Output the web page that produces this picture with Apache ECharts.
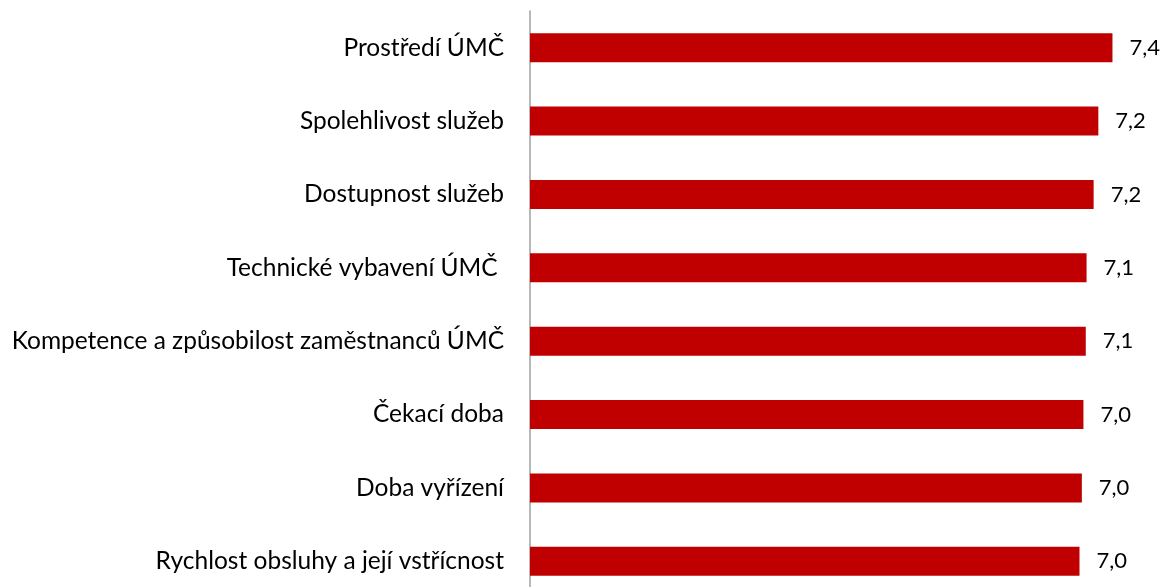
<!DOCTYPE html>
<html>
<head>
<meta charset="utf-8">
<script src="https://cdn.jsdelivr.net/npm/echarts@6/dist/echarts.min.js"></script>
<style>
  html, body { margin: 0; padding: 0; background: #fff; }
  #chart { width: 1165px; height: 587px; }
</style>
</head>
<body>
<div id="chart"></div>
<script>
// top to bottom as in the picture
const categories = [
  'Prostředí ÚMČ',
  'Spolehlivost služeb',
  'Dostupnost služeb',
  'Technické vybavení ÚMČ ',
  'Kompetence a způsobilost zaměstnanců ÚMČ',
  'Čekací doba',
  'Doba vyřízení',
  'Rychlost obsluhy a její vstřícnost'
]
const scores = [7.42, 7.24, 7.18, 7.09, 7.08, 7.05, 7.03, 7.0]

const chart = echarts.init(document.getElementById('chart'))

chart.setOption({
  animation: false,
  grid: {
    left: 530,
    right: 7,
    top: 11,
    height: 587,
    containLabel: false,
    outerBoundsMode: 'none'
  },
  xAxis: {
    type: 'value',
    min: 0,
    max: 8,
    show: false
  },
  yAxis: {
    type: 'category',
    inverse: true,
    data: categories,
    axisLine: {
      show: true,
      lineStyle: { color: '#a0a0a0', width: 1.5 }
    },
    axisTick: { show: false },
    axisLabel: {
      margin: 26,
      fontFamily: 'Lato',
      fontSize: 24.5,
      color: '#000'
    }
  },
  series: [{
    type: 'bar',
    data: scores,
    barWidth: 29,
    itemStyle: { color: '#c00000' },
    label: {
      show: true,
      position: 'right',
      distance: 17,
      fontFamily: 'Lato',
      fontSize: 22,
      color: '#000',
      formatter: (p) => p.value.toFixed(1).replace('.', ',')
    }
  }]
})
</script>
</body>
</html>
